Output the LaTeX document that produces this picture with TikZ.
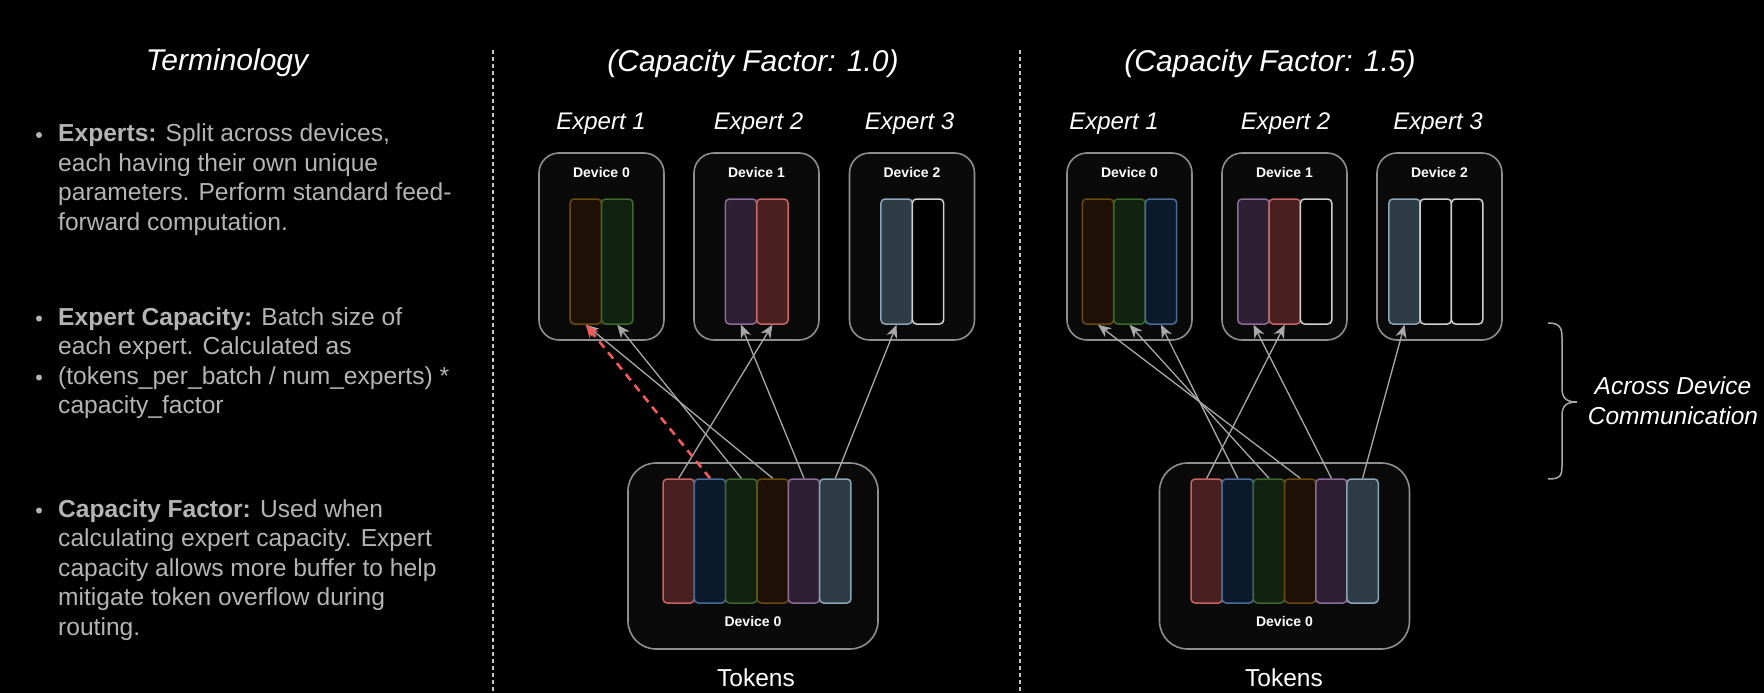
\documentclass[tikz,border=0pt]{standalone}
\usepackage{fontspec}
\setmainfont{Liberation Sans}
\usetikzlibrary{arrows.meta}
\definecolor{bg}{HTML}{000000}
\definecolor{boxfill}{HTML}{0A0A0A}
\definecolor{boxline}{HTML}{8E8E8E}
\definecolor{bodytxt}{HTML}{B4B4B4}
\definecolor{arrowgray}{HTML}{A8A8A8}
\definecolor{sepgray}{HTML}{C4C4C4}
\definecolor{redf}{HTML}{4A1F1F}\definecolor{reds}{HTML}{C86464}
\definecolor{bluef}{HTML}{0C1A2E}\definecolor{blues}{HTML}{4C6A98}
\definecolor{greenf}{HTML}{112211}\definecolor{greens}{HTML}{3C6A2C}
\definecolor{orangef}{HTML}{1E1004}\definecolor{oranges}{HTML}{6B4A0E}
\definecolor{purplef}{HTML}{2E2032}\definecolor{purples}{HTML}{8C6A9A}
\definecolor{slatef}{HTML}{2E3C46}\definecolor{slates}{HTML}{8AA4B8}
\definecolor{emptys}{HTML}{D0D0D0}
\definecolor{dashred}{HTML}{F05A5A}
\tikzset{
  devbox/.style={draw=boxline, fill=boxfill, line width=1.6pt, rounded corners=20pt,
    minimum width=125pt, minimum height=187pt, inner sep=0pt},
  tokbox/.style={draw=boxline, fill=boxfill, line width=1.6pt, rounded corners=28pt,
    minimum width=250pt, minimum height=186pt, inner sep=0pt},
  bar/.style={line width=1.5pt, rounded corners=4pt, minimum width=31.3pt,
    minimum height=125pt, inner sep=0pt},
  tbar/.style={bar, minimum height=124pt},
  cred/.style={fill=redf, draw=reds},
  cblue/.style={fill=bluef, draw=blues},
  cgreen/.style={fill=greenf, draw=greens},
  corange/.style={fill=orangef, draw=oranges},
  cpurple/.style={fill=purplef, draw=purples},
  cslate/.style={fill=slatef, draw=slates},
  cempty/.style={fill=black, draw=emptys},
  devlabel/.style={text=white, font=\bfseries\fontsize{14}{16}\selectfont, anchor=base, inner sep=0pt},
  title/.style={text=white, font=\itshape\fontsize{30}{34}\selectfont, anchor=base, inner sep=0pt},
  explabel/.style={text=white, font=\itshape\fontsize{24}{28}\selectfont, anchor=base, inner sep=0pt},
  toklabel/.style={text=white, font=\fontsize{24.5}{28}\selectfont, anchor=base, inner sep=0pt},
  side/.style={text=white, font=\itshape\fontsize{24.5}{30}\selectfont, anchor=base, inner sep=0pt},
  body/.style={text=bodytxt, font=\fontsize{24.6}{29.5}\selectfont, anchor=base west, inner sep=0pt},
  bulletdot/.style={circle, fill=bodytxt, inner sep=0pt, minimum size=6pt},
  route/.style={draw=arrowgray, line width=1.3pt, -{Stealth[length=13pt,width=11pt,inset=4pt]}},
  overflow/.style={draw=dashred, line width=2.6pt, dash pattern=on 8pt off 6pt,
    -{Stealth[length=13pt,width=11pt,inset=4pt]}},
  sep/.style={draw=sepgray, line width=1.8pt, dash pattern=on 4pt off 3pt},
}
\begin{document}
\begin{tikzpicture}[x=1pt,y=-1pt]
\fill[bg] (0,0) rectangle (1764,693);
\useasboundingbox (0,0) rectangle (1764,693);

% separators
\coordinate (s1t) at (493,50); \coordinate (s1b) at (493,693);
\coordinate (s2t) at (1020,50); \coordinate (s2b) at (1020,693);
\draw[sep] (s1t) -- (s1b);
\draw[sep] (s2t) -- (s2b);

% ---------- Terminology ----------
\node[title] (term) at (227,70.5) {Terminology};
\node[bulletdot] (b1) at (39,135) {};
\node[body] (t1a) at (58,141.5) {\textbf{Experts:} Split across devices,};
\node[body] (t1b) at (58,171) {each having their own unique};
\node[body] (t1c) at (58,200.5) {parameters. Perform standard feed-};
\node[body] (t1d) at (58,230) {forward computation.};
\node[bulletdot] (b2) at (39,318.5) {};
\node[body] (t2a) at (58,325) {\textbf{Expert Capacity:} Batch size of};
\node[body] (t2b) at (58,354.5) {each expert. Calculated as};
\node[bulletdot] (b3) at (39,377.5) {};
\node[body] (t2c) at (58,384) {(tokens\_per\_batch / num\_experts) *};
\node[body] (t2d) at (58,413.5) {capacity\_factor};
\node[bulletdot] (b4) at (39,510.5) {};
\node[body] (t3a) at (58,517) {\textbf{Capacity Factor:} Used when};
\node[body] (t3b) at (58,546.5) {calculating expert capacity. Expert};
\node[body] (t3c) at (58,576) {capacity allows more buffer to help};
\node[body] (t3d) at (58,605.5) {mitigate token overflow during};
\node[body] (t3e) at (58,635) {routing.};

% ---------- Left panel: capacity 1.0 ----------
\node[title] (ltitle) at (753,71) {(Capacity Factor: 1.0)};
\node[explabel] (le1) at (601,129) {Expert 1};
\node[explabel] (le2) at (758.5,129) {Expert 2};
\node[explabel] (le3) at (909.5,129) {Expert 3};

\node[devbox] (L0) at (601.5,246.5) {};
\node[devbox] (L1) at (756.5,246.5) {};
\node[devbox] (L2) at (912,246.5) {};
\node[devlabel] (L0l) at (601.5,177) {Device 0};
\node[devlabel] (L1l) at (756.5,177) {Device 1};
\node[devlabel] (L2l) at (912,177) {Device 2};

\node[bar,corange] (L0a) at (585.8,261.5) {};
\node[bar,cgreen]  (L0b) at (617.2,261.5) {};
\node[bar,cpurple] (L1a) at (741,261.5) {};
\node[bar,cred]    (L1b) at (772.4,261.5) {};
\node[bar,cslate]  (L2a) at (896.6,261.5) {};
\node[bar,cempty]  (L2b) at (928,261.5) {};

\node[tokbox] (LT) at (753,556) {};
\node[tbar,cred]    (LT1) at (678.7,541) {};
\node[tbar,cblue]   (LT2) at (710,541) {};
\node[tbar,cgreen]  (LT3) at (741.3,541) {};
\node[tbar,corange] (LT4) at (772.7,541) {};
\node[tbar,cpurple] (LT5) at (804,541) {};
\node[tbar,cslate]  (LT6) at (835.3,541) {};
\node[devlabel] (LTl) at (753,626) {Device 0};
\node[toklabel] (LTok) at (756,686) {Tokens};

\draw[route] (LT4.north) -- (L0a.south);
\draw[route] (LT3.north) -- (L0b.south);
\draw[route] (LT5.north) -- (L1a.south);
\draw[route] (LT1.north) -- (L1b.south);
\draw[route] (LT6.north) -- (L2a.south);
\draw[overflow] (LT2.north) -- (L0a.south);

% ---------- Right panel: capacity 1.5 ----------
\node[title] (rtitle) at (1270,71) {(Capacity Factor: 1.5)};
\node[explabel] (re1) at (1114,129) {Expert 1};
\node[explabel] (re2) at (1285.5,129) {Expert 2};
\node[explabel] (re3) at (1438,129) {Expert 3};

\node[devbox] (R0) at (1129.5,246.5) {};
\node[devbox] (R1) at (1284.5,246.5) {};
\node[devbox] (R2) at (1439.5,246.5) {};
\node[devlabel] (R0l) at (1129.5,177) {Device 0};
\node[devlabel] (R1l) at (1284.5,177) {Device 1};
\node[devlabel] (R2l) at (1439.5,177) {Device 2};

\node[bar,corange] (R0a) at (1098,261.5) {};
\node[bar,cgreen]  (R0b) at (1129.5,261.5) {};
\node[bar,cblue]   (R0c) at (1161,261.5) {};
\node[bar,cpurple] (R1a) at (1253.5,261.5) {};
\node[bar,cred]    (R1b) at (1284.8,261.5) {};
\node[bar,cempty]  (R1c) at (1316.1,261.5) {};
\node[bar,cslate]  (R2a) at (1404.5,261.5) {};
\node[bar,cempty]  (R2b) at (1435.8,261.5) {};
\node[bar,cempty]  (R2c) at (1467.1,261.5) {};

\node[tokbox] (RT) at (1284.5,556) {};
\node[tbar,cred]    (RT1) at (1206.7,541) {};
\node[tbar,cblue]   (RT2) at (1237.8,541) {};
\node[tbar,cgreen]  (RT3) at (1269,541) {};
\node[tbar,corange] (RT4) at (1300.2,541) {};
\node[tbar,cpurple] (RT5) at (1331.4,541) {};
\node[tbar,cslate]  (RT6) at (1362.6,541) {};
\node[devlabel] (RTl) at (1284.5,626) {Device 0};
\node[toklabel] (RTok) at (1284,686) {Tokens};

\draw[route] (RT4.north) -- (R0a.south);
\draw[route] (RT3.north) -- (R0b.south);
\draw[route] (RT2.north) -- (R0c.south);
\draw[route] (RT5.north) -- (R1a.south);
\draw[route] (RT1.north) -- (R1b.south);
\draw[route] (RT6.north) -- (R2a.south);

% ---------- Brace and label ----------
\coordinate (brT) at (1548,323);
\coordinate (brB) at (1548,479);
\coordinate (brM) at (1577,402);
\draw[draw=arrowgray, line width=1.5pt]
  (brT) .. controls (1560,323) and (1562,328) .. (1562,338)
  -- (1562,388) .. controls (1562,398) and (1566,402) .. (brM)
  .. controls (1566,402) and (1562,406) .. (1562,416)
  -- (1562,466) .. controls (1562,476) and (1560,479) .. (brB);
\node[side] (adc1) at (1673,394) {Across Device};
\node[side] (adc2) at (1673,424) {Communication};
\end{tikzpicture}
\end{document}
